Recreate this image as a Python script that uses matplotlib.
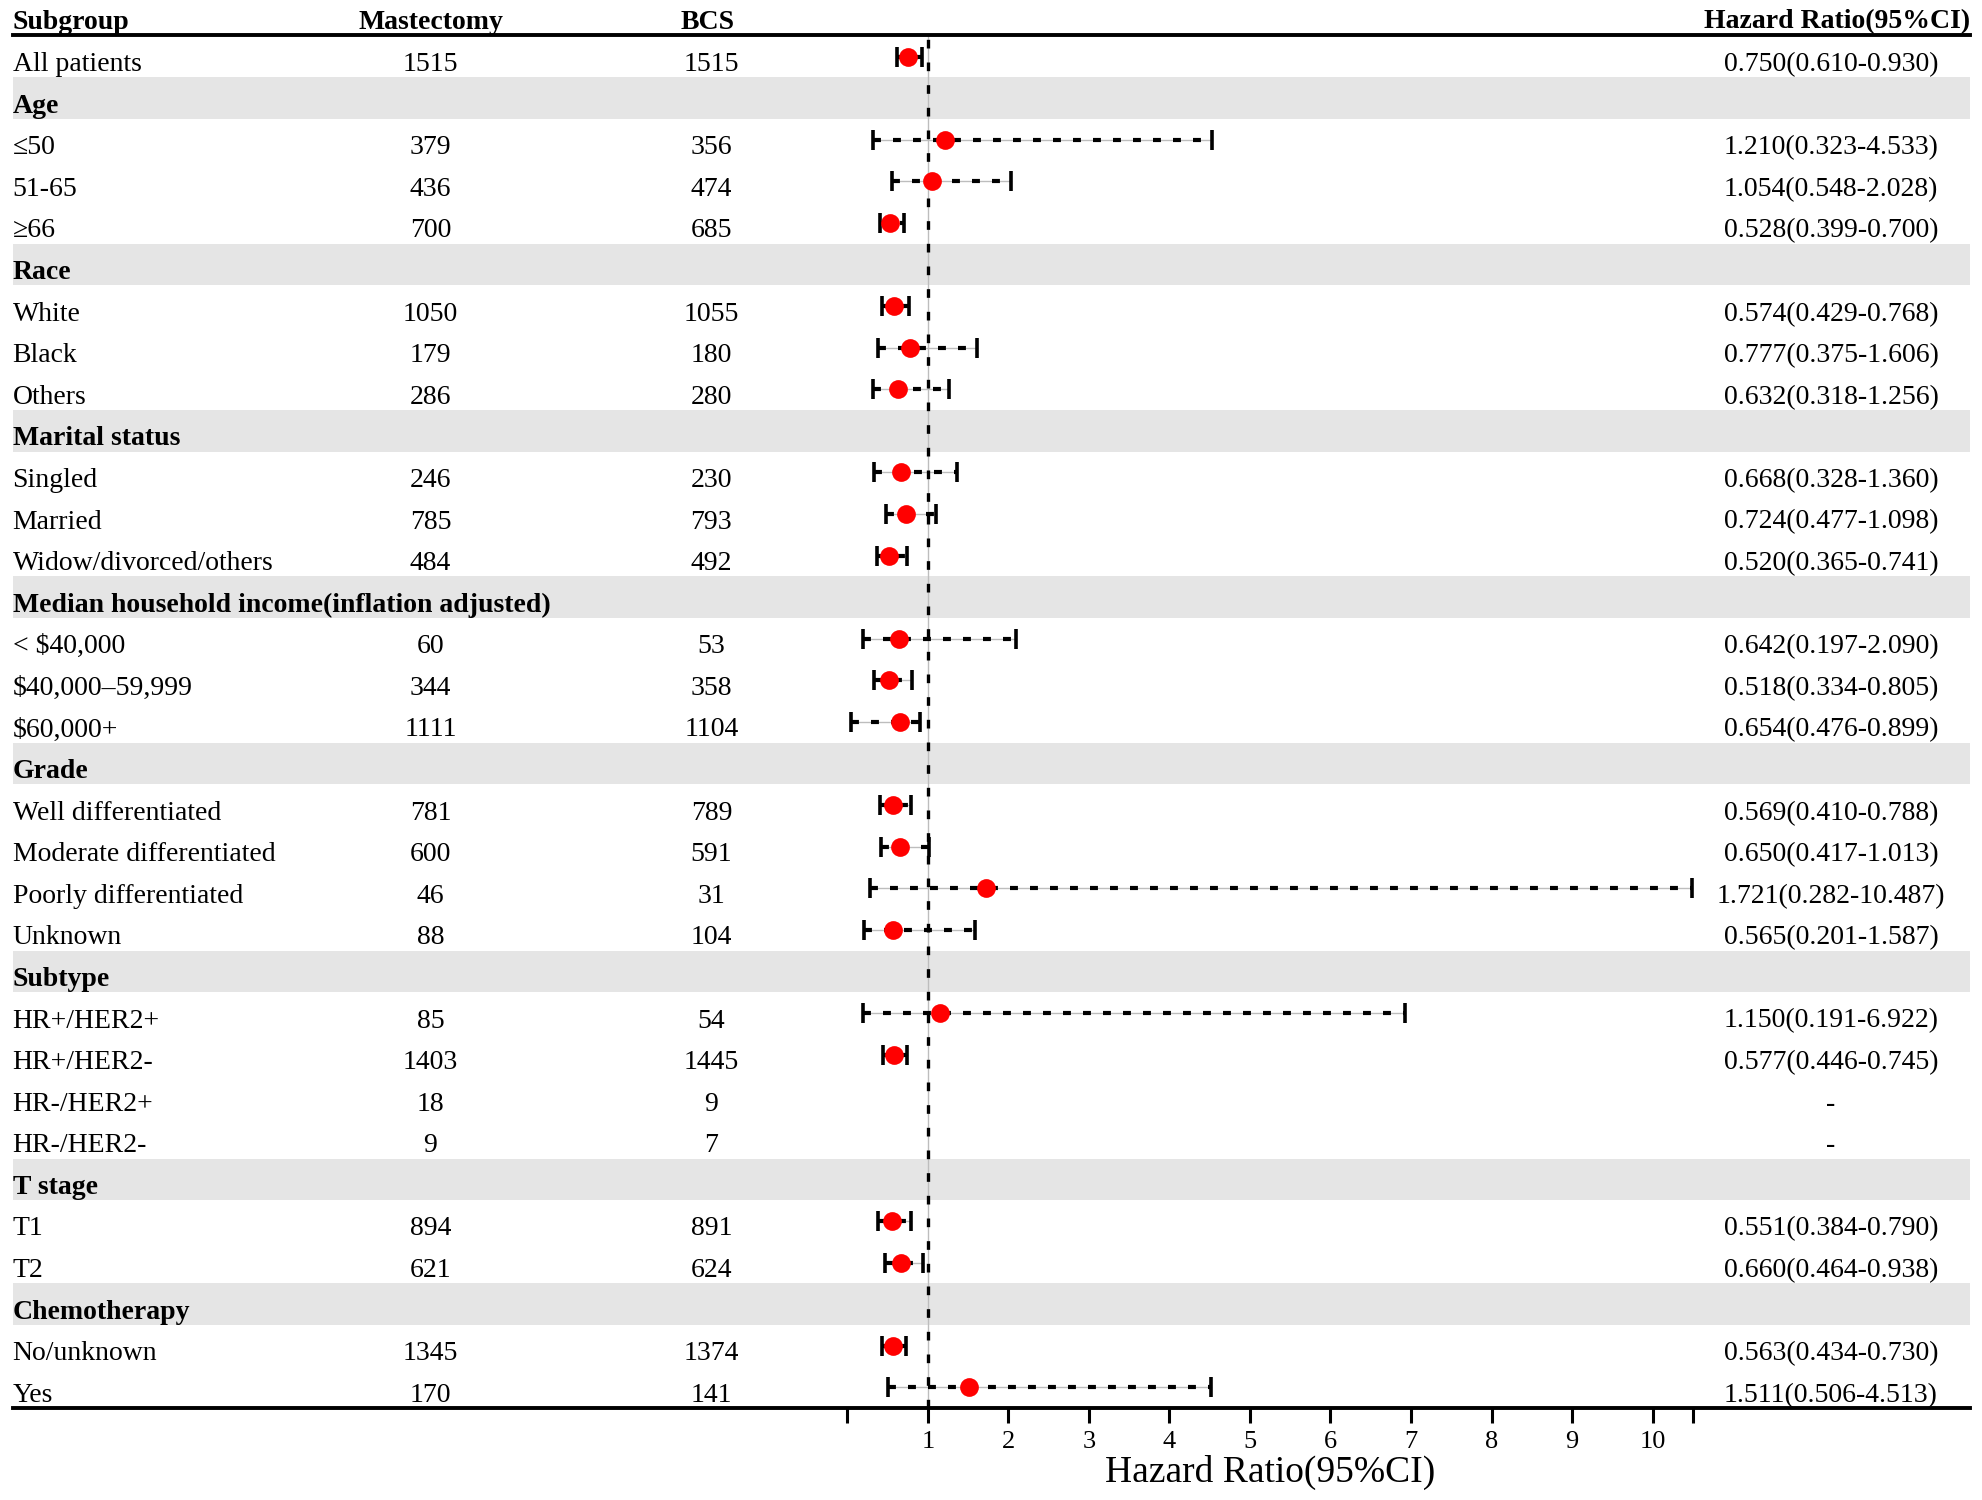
import matplotlib
matplotlib.use("Agg")
import matplotlib.pyplot as plt
import matplotlib.transforms as mtransforms

plt.rcParams["font.family"] = ["Liberation Serif", "DejaVu Serif"]

# --- data ---
subgroups = [
    "All patients", "Age", "≤50", "51-65", "≥66",
    "Race", "White", "Black", "Others",
    "Marital status", "Singled", "Married", "Widow/divorced/others",
    "Median household income(inflation adjusted)",
    "< \\$40,000", "\\$40,000–59,999", "\\$60,000+",
    "Grade", "Well differentiated", "Moderate differentiated",
    "Poorly differentiated", "Unknown",
    "Subtype", "HR+/HER2+", "HR+/HER2-", "HR-/HER2+", "HR-/HER2-",
    "T stage", "T1", "T2",
    "Chemotherapy", "No/unknown", "Yes",
]
header_rows = [1, 5, 9, 13, 17, 22, 27, 30]

mastectomy = [1515, None, 379, 436, 700, None, 1050, 179, 286, None, 246, 785, 484,
              None, 60, 344, 1111, None, 781, 600, 46, 88, None, 85, 1403, 18, 9,
              None, 894, 621, None, 1345, 170]
bcs = [1515, None, 356, 474, 685, None, 1055, 180, 280, None, 230, 793, 492,
       None, 53, 358, 1104, None, 789, 591, 31, 104, None, 54, 1445, 9, 7,
       None, 891, 624, None, 1374, 141]

hr_text = ["0.750(0.610-0.930)", "", "1.210(0.323-4.533)", "1.054(0.548-2.028)",
           "0.528(0.399-0.700)", "", "0.574(0.429-0.768)", "0.777(0.375-1.606)",
           "0.632(0.318-1.256)", "", "0.668(0.328-1.360)", "0.724(0.477-1.098)",
           "0.520(0.365-0.741)", "", "0.642(0.197-2.090)", "0.518(0.334-0.805)",
           "0.654(0.476-0.899)", "", "0.569(0.410-0.788)", "0.650(0.417-1.013)",
           "1.721(0.282-10.487)", "0.565(0.201-1.587)", "", "1.150(0.191-6.922)",
           "0.577(0.446-0.745)", "-", "-", "", "0.551(0.384-0.790)",
           "0.660(0.464-0.938)", "", "0.563(0.434-0.730)", "1.511(0.506-4.513)"]

# plotted estimates (as drawn in the figure)
hr = [0.750, None, 1.210, 1.054, 0.528, None, 0.574, 0.777, 0.632, None, 0.668, 0.724,
      0.520, None, 0.642, 0.518, 0.654, None, 0.569, 0.650, 1.721, 0.565, None, 1.150,
      0.577, None, None, None, 0.551, 0.660, None, 0.563, 1.511]
ci_low = [0.610, None, 0.323, 0.548, 0.399, None, 0.429, 0.375, 0.318, None, 0.328,
          0.477, 0.365, None, 0.197, 0.334, 0.04, None, 0.410, 0.417, 0.282, 0.201,
          None, 0.191, 0.446, None, None, None, 0.384, 0.464, None, 0.434, 0.506]
ci_high = [0.930, None, 4.533, 2.028, 0.700, None, 0.768, 1.606, 1.256, None, 1.360,
           1.098, 0.741, None, 2.090, 0.805, 0.899, None, 0.788, 1.013, 10.487, 1.587,
           None, 6.922, 0.745, None, None, None, 0.790, 0.938, None, 0.730, 4.513]

xticks = [0, 1, 2, 3, 4, 5, 6, 7, 8, 9, 10, 10.5]
xticklabels = ["", "1", "2", "3", "4", "5", "6", "7", "8", "9", "10", ""]

FS = 20

fig = plt.figure(figsize=(19.83, 15), dpi=100)
ax = fig.add_axes([0.00635, 0.0613, 0.9871, 0.9154])
n = len(subgroups)
ax.set_ylim(n - 0.5, -0.52)
ax.set_xlim(-10.371, 13.944)

# grey bands for category rows
for r in header_rows:
    ax.axhspan(r - 0.5, r + 0.5, color="#e5e5e5", lw=0, zorder=0)

# reference line at HR = 1
ax.axvline(1, color="#bdbdbd", lw=1, zorder=1)
ax.axvline(1, color="black", lw=2.4, dashes=(2.6, 4.2), zorder=2)

# confidence intervals and points
for i in range(n):
    if hr[i] is None:
        continue
    ax.plot([ci_low[i], ci_high[i]], [i, i], color="#bdbdbd", lw=1, zorder=1)
    ax.plot([ci_low[i], ci_high[i]], [i, i], color="black", lw=3,
            dashes=(1.9, 2.9), zorder=2)
    ax.plot([ci_low[i], ci_high[i]], [i, i], ls="none", marker="|",
            markersize=14, mew=2.6, color="black", zorder=3)
    ax.plot(hr[i], i, "o", color="red", markersize=13.5, mew=0, zorder=4)

# table text
tr = mtransforms.blended_transform_factory(ax.transAxes, ax.transData)
off = 0.35
col_sub, col_mast, col_bcs, col_hr = 0.0, 0.2135, 0.357, 0.929
for i in range(n):
    bold = i in header_rows
    ax.text(col_sub, i + off, subgroups[i], transform=tr, fontsize=FS,
            fontweight="bold" if bold else "normal", va="baseline", ha="left")
    if mastectomy[i] is not None:
        ax.text(col_mast, i + off, str(mastectomy[i]), transform=tr, fontsize=FS,
                va="baseline", ha="center")
        ax.text(col_bcs, i + off, str(bcs[i]), transform=tr, fontsize=FS,
                va="baseline", ha="center")
    if hr_text[i]:
        ax.text(col_hr, i + off, hr_text[i], transform=tr, fontsize=FS,
                va="baseline", ha="center")

# column headers
hy = -0.673
ax.text(col_sub, hy, "Subgroup", transform=tr, fontsize=FS, fontweight="bold",
        va="baseline", ha="left", clip_on=False)
ax.text(col_mast, hy, "Mastectomy", transform=tr, fontsize=FS, fontweight="bold",
        va="baseline", ha="center", clip_on=False)
ax.text(0.355, hy, "BCS", transform=tr, fontsize=FS, fontweight="bold",
        va="baseline", ha="center", clip_on=False)
ax.text(0.932, hy, "Hazard Ratio(95%CI)", transform=tr, fontsize=FS,
        fontweight="bold", va="baseline", ha="center", clip_on=False)

# axes styling
for s in ["left", "right"]:
    ax.spines[s].set_visible(False)
ax.spines["top"].set_linewidth(2.8)
ax.spines["bottom"].set_linewidth(2.8)
ax.set_yticks([])
ax.set_xticks(xticks)
ax.set_xticklabels(xticklabels)
ax.tick_params(axis="x", direction="out", length=10.5, width=2.2, labelsize=19, pad=6)

trx = mtransforms.blended_transform_factory(ax.transData, ax.transAxes)
ax.text(5.25, -0.0537, "Hazard Ratio(95%CI)", transform=trx, fontsize=27,
        ha="center", va="baseline", clip_on=False)

fig.savefig("out.png", dpi=100)
